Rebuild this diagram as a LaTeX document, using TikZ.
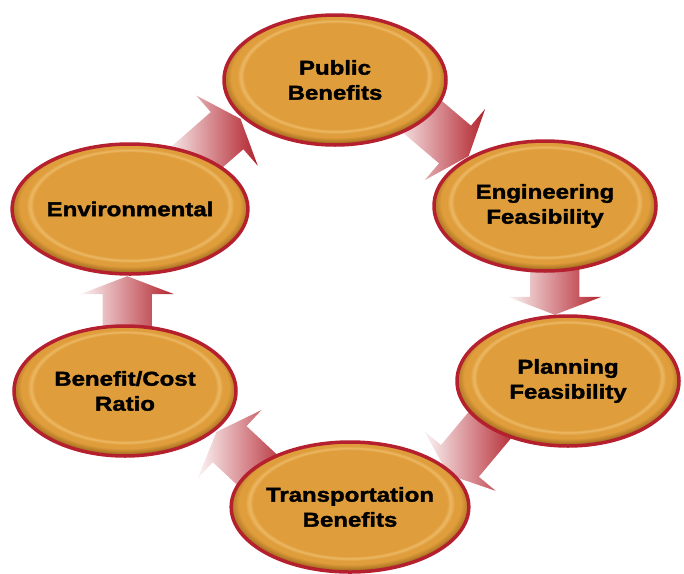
\documentclass[tikz,border=0pt]{standalone}
\usepackage{fontspec}
\newfontfamily\ovalfont[FakeStretch=1.2,FakeBold=1.8]{Liberation Sans}
\usetikzlibrary{shapes.geometric,shapes.arrows,calc,backgrounds}
\definecolor{ovalfill}{RGB}{223,157,59}
\definecolor{ovallight}{RGB}{236,184,100}
\definecolor{ovalrim}{RGB}{165,110,32}
\definecolor{ovalborder}{RGB}{181,32,47}
\definecolor{arrowred}{RGB}{178,34,44}
\pgfdeclareradialshading[ovalfill,ovallight,ovalrim]{ovalshade}{\pgfpoint{0bp}{2.5bp}}{%
  color(0bp)=(ovalfill); color(20.4bp)=(ovalfill); color(21.2bp)=(ovallight);
  color(22.1bp)=(ovalfill); color(23.4bp)=(ovalfill); color(25.5bp)=(ovalrim);
  color(50bp)=(ovalrim)}
\begin{document}
\begin{tikzpicture}[x=1pt, y=1pt,
        stage/.style={ellipse, draw=ovalborder, line width=3.5pt, shading=ovalshade,
            minimum width=222pt, minimum height=130pt, inner sep=0pt, align=center,
            font=\ovalfont\bfseries\fontsize{20}{25}\selectfont},
        flow/.style={single arrow, inner xsep=0pt, inner ysep=24.5pt,
            single arrow head extend=22pt, single arrow tip angle=138,
            left color=arrowred!5, right color=arrowred},
    ]
    \useasboundingbox (0,0) rectangle (684,-573);
    \node[stage] (pub)   at (335,-80)  {Public\\Benefits};
    \node[stage] (eng)   at (545,-206) {Engineering\\Feasibility};
    \node[stage] (plan)  at (568,-381) {Planning\\Feasibility};
    \node[stage] (trans) at (350,-507) {Transportation\\Benefits};
    \node[stage] (bc)    at (125,-391) {Benefit/Cost\\Ratio};
    \node[stage] (env)   at (130,-209) {Environmental};
    % arrows sit behind the ovals
    \begin{scope}[on background layer]
    \foreach \from/\to/\t/\dy/\ang/\len in {env/pub/0.375/12.3/41.2/80,
        pub/eng/0.474/12.6/-40.3/80, eng/plan/0.423/0/-90/60,
        plan/trans/0.417/-6.8/-129.9/80, trans/bc/0.448/-7.4/136.9/80,
        bc/env/0.44/0/90/60}
        \node[flow, rotate=\ang, minimum height=\len pt] (\from-\to)
            at ($(\from)!\t!(\to)+(0,\dy)$) {};
    \end{scope}
\end{tikzpicture}
\end{document}
